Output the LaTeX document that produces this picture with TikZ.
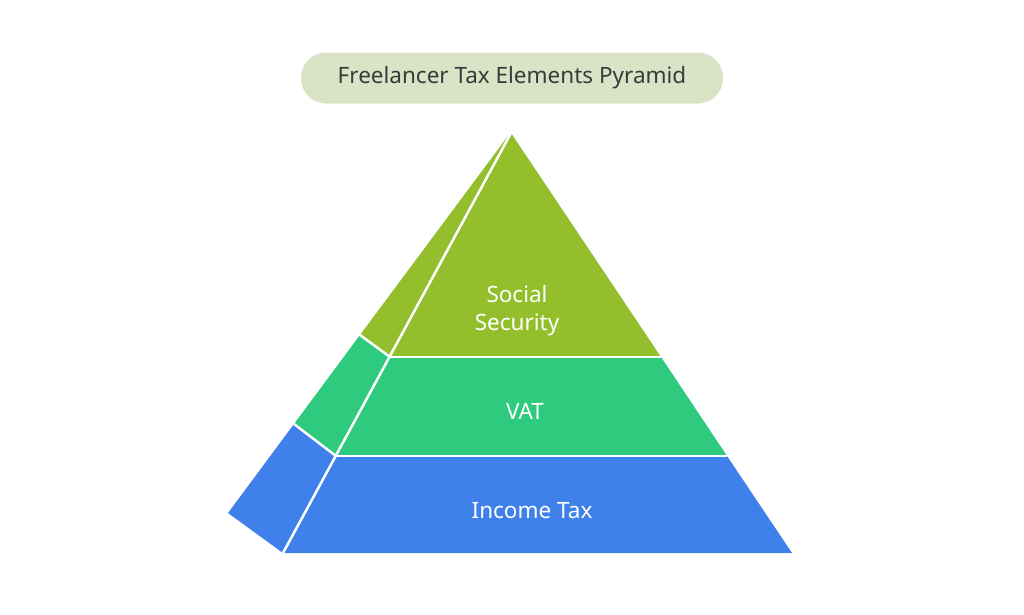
\documentclass[tikz,border=0pt]{standalone}
\usepackage{fontspec}
\setmainfont{Noto Sans}
\usetikzlibrary{positioning}
\definecolor{ssgreen}{HTML}{93BF2C}
\definecolor{vatgreen}{HTML}{2ECB7E}
\definecolor{taxblue}{HTML}{3F80EA}
\definecolor{pillgreen}{HTML}{D9E3C6}
\definecolor{titlegray}{HTML}{3A3A3A}
\tikzstyle{face} = [draw=white, line width=2.5pt, line join=round]
\tikzstyle{tier} = [text=white, font=\fontsize{22.5}{28}\selectfont, align=center]
\tikzstyle{pill} = [rectangle, rounded corners=25pt, fill=pillgreen, minimum width=422pt, minimum height=51pt, text=titlegray, font=\fontsize{22.5}{26}\selectfont]

\begin{document}
\begin{tikzpicture}[x=1pt,y=-1pt]
        \useasboundingbox (0,0) rectangle (1024,614);
        \node (title) [pill] at (512,78) {Freelancer Tax Elements Pyramid};

        % front corners
        \coordinate (apex) at (511,133);
        \coordinate (l1) at (390,357);
        \coordinate (r1) at (661,357);
        \coordinate (l2) at (336,456);
        \coordinate (r2) at (727,456);
        \coordinate (l3) at (283,553);
        \coordinate (r3) at (792,553);
        % side corners
        \coordinate (sapex) at (505,140);
        \coordinate (s1) at (360,335);
        \coordinate (s2) at (294,424);
        \coordinate (s3) at (228,513);

        \fill[ssgreen] (sapex)--(s1)--(l1)--(apex)--cycle;
        \fill[vatgreen] (s1)--(s2)--(l2)--(l1)--cycle;
        \fill[taxblue] (s2)--(s3)--(l3)--(l2)--cycle;
        \draw[face] (s1)--(l1);
        \draw[face] (s2)--(l2);

        \fill[ssgreen] (apex)--(r1)--(l1)--cycle;
        \fill[vatgreen] (l1)--(r1)--(r2)--(l2)--cycle;
        \fill[taxblue] (l2)--(r2)--(r3)--(l3)--cycle;
        \draw[face] (apex)--(l3);
        \draw[face] (l1)--(r1);
        \draw[face] (l2)--(r2);

        \node (social) [tier] at (517,311) {Social\\Security};
        \node (vat) [tier] at (525,411) {VAT};
        \node (income) [tier] at (532,511) {Income Tax};
\end{tikzpicture}
\end{document}
